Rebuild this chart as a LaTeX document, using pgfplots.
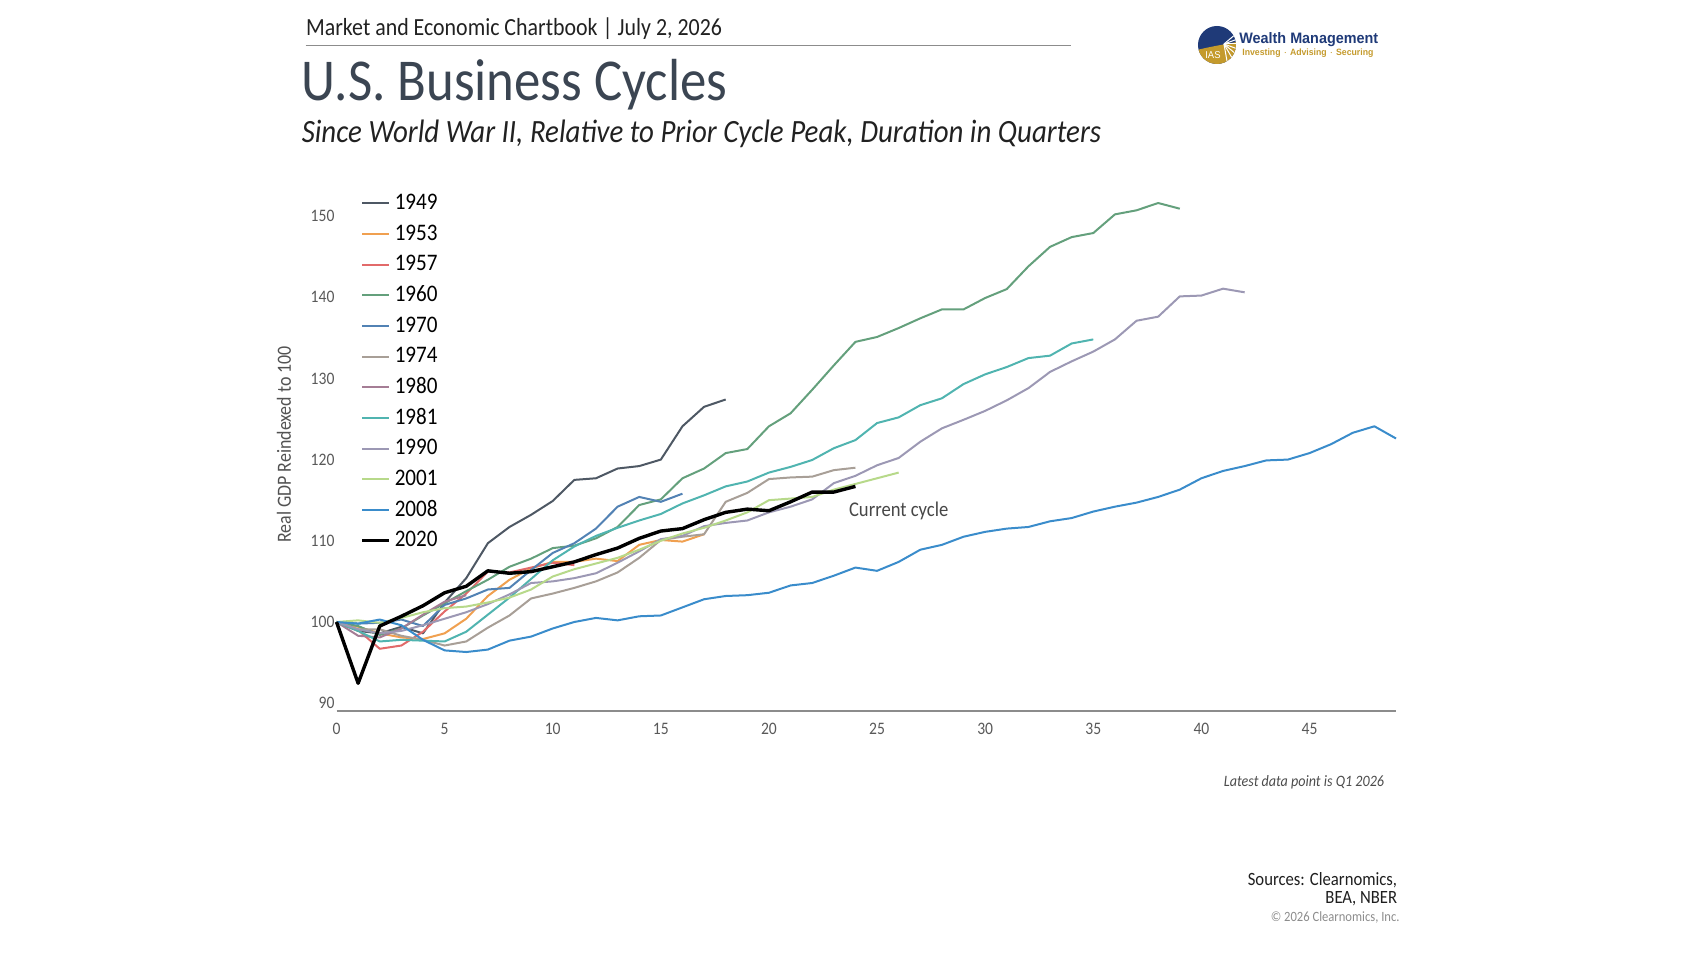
\documentclass[border=0pt]{standalone}
\usepackage{pgfplots}
\pgfplotsset{compat=1.18}
\usepackage{pgfplotstable}
\usepackage{fontspec}
\setmainfont{Carlito}[FakeStretch=0.89]
\newfontfamily\logofont{Liberation Sans}[FakeStretch=0.95]

\definecolor{c1949}{HTML}{4E5864}
\definecolor{c1953}{HTML}{F0A050}
\definecolor{c1957}{HTML}{E26A6A}
\definecolor{c1960}{HTML}{64A07C}
\definecolor{c1970}{HTML}{5282B4}
\definecolor{c1974}{HTML}{A89F97}
\definecolor{c1980}{HTML}{A57D95}
\definecolor{c1981}{HTML}{50B4B0}
\definecolor{c1990}{HTML}{9C98B4}
\definecolor{c2001}{HTML}{B7D98A}
\definecolor{c2008}{HTML}{3A8CCB}
\definecolor{c2020}{HTML}{000000}
\definecolor{titlecol}{HTML}{3B4552}
\definecolor{logoblue}{HTML}{1F3A78}
\definecolor{logogold}{HTML}{C49A2C}

\pgfplotstableread[row sep=\\]{q v\\0 100\\1 98.9\\2 98.6\\3 99.4\\4 98.6\\5 102.4\\6 105.4\\7 109.7\\8 111.7\\9 113.2\\10 114.9\\11 117.5\\12 117.7\\13 118.9\\14 119.2\\15 120.0\\16 124.1\\17 126.5\\18 127.4\\}\tA
\pgfplotstableread[row sep=\\]{q v\\0 100\\1 99.4\\2 98.6\\3 98.1\\4 97.9\\5 98.6\\6 100.4\\7 103.2\\8 105.2\\9 106.6\\10 107.4\\11 107.4\\12 107.8\\13 107.5\\14 109.5\\15 110.1\\16 109.9\\17 110.8\\}\tB
\pgfplotstableread[row sep=\\]{q v\\0 100\\1 99.0\\2 96.7\\3 97.1\\4 98.8\\5 101.3\\6 103.5\\7 106.2\\8 106.1\\9 106.7\\10 107.3\\11 107.0\\}\tC
\pgfplotstableread[row sep=\\]{q v\\0 100\\1 99.5\\2 98.4\\3 99.2\\4 100.8\\5 102.3\\6 103.8\\7 105.2\\8 106.8\\9 107.8\\10 109.1\\11 109.4\\12 110.3\\13 111.7\\14 114.4\\15 115.1\\16 117.7\\17 118.9\\18 120.8\\19 121.3\\20 124.1\\21 125.7\\22 128.6\\23 131.6\\24 134.5\\25 135.1\\26 136.2\\27 137.4\\28 138.5\\29 138.5\\30 139.9\\31 141.0\\32 143.8\\33 146.2\\34 147.4\\35 147.9\\36 150.2\\37 150.7\\38 151.6\\39 150.9\\}\tD
\pgfplotstableread[row sep=\\]{q v\\0 100\\1 99.8\\2 99.9\\3 100.3\\4 99.5\\5 102.1\\6 102.9\\7 104.0\\8 104.2\\9 106.4\\10 108.5\\11 109.7\\12 111.5\\13 114.2\\14 115.4\\15 114.8\\16 115.8\\}\tE
\pgfplotstableread[row sep=\\]{q v\\0 100\\1 99.1\\2 99.1\\3 98.3\\4 97.8\\5 97.1\\6 97.6\\7 99.3\\8 100.8\\9 102.9\\10 103.5\\11 104.2\\12 105.0\\13 106.1\\14 107.9\\15 110.1\\16 110.5\\17 110.8\\18 114.8\\19 115.9\\20 117.6\\21 117.8\\22 117.9\\23 118.7\\24 119.0\\}\tF
\pgfplotstableread[row sep=\\]{q v\\0 100\\1 98.3\\2 98.1\\3 99.2\\4 100.9\\5 102.5\\6 103.3\\}\tG
\pgfplotstableread[row sep=\\]{q v\\0 100\\1 98.9\\2 97.6\\3 97.8\\4 97.7\\5 97.6\\6 98.8\\7 100.9\\8 103.0\\9 105.3\\10 107.6\\11 109.3\\12 110.6\\13 111.6\\14 112.5\\15 113.3\\16 114.6\\17 115.6\\18 116.7\\19 117.3\\20 118.4\\21 119.1\\22 119.95\\23 121.4\\24 122.4\\25 124.5\\26 125.2\\27 126.7\\28 127.55\\29 129.3\\30 130.5\\31 131.4\\32 132.5\\33 132.8\\34 134.3\\35 134.8\\}\tH
\pgfplotstableread[row sep=\\]{q v\\0 100\\1 99.1\\2 98.6\\3 98.9\\4 99.6\\5 100.4\\6 101.2\\7 102.2\\8 103.4\\9 104.8\\10 105.0\\11 105.4\\12 106.0\\13 107.3\\14 108.7\\15 110.2\\16 110.6\\17 111.8\\18 112.2\\19 112.5\\20 113.5\\21 114.2\\22 115.1\\23 117.1\\24 118.0\\25 119.3\\26 120.2\\27 122.2\\28 123.85\\29 124.9\\30 126.0\\31 127.3\\32 128.8\\33 130.8\\34 132.1\\35 133.3\\36 134.8\\37 137.1\\38 137.6\\39 140.1\\40 140.2\\41 141.05\\42 140.6\\}\tI
\pgfplotstableread[row sep=\\]{q v\\0 100\\1 100.2\\2 99.9\\3 100.5\\4 101.2\\5 101.7\\6 101.9\\7 102.4\\8 103.0\\9 104.0\\10 105.6\\11 106.5\\12 107.2\\13 107.9\\14 108.9\\15 110.0\\16 110.9\\17 111.6\\18 112.5\\19 113.5\\20 115.0\\21 115.2\\22 115.4\\23 116.3\\24 117.0\\25 117.7\\26 118.4\\}\tJ
\pgfplotstableread[row sep=\\]{q v\\0 100\\1 99.8\\2 100.3\\3 99.6\\4 97.8\\5 96.5\\6 96.3\\7 96.6\\8 97.7\\9 98.2\\10 99.2\\11 100.0\\12 100.5\\13 100.2\\14 100.7\\15 100.8\\16 101.8\\17 102.8\\18 103.2\\19 103.3\\20 103.6\\21 104.5\\22 104.8\\23 105.7\\24 106.7\\25 106.3\\26 107.4\\27 108.9\\28 109.5\\29 110.5\\30 111.1\\31 111.5\\32 111.7\\33 112.4\\34 112.8\\35 113.6\\36 114.2\\37 114.7\\38 115.4\\39 116.3\\40 117.7\\41 118.6\\42 119.2\\43 119.9\\44 120.0\\45 120.8\\46 121.9\\47 123.3\\48 124.1\\49 122.6\\}\tK
\pgfplotstableread[row sep=\\]{q v\\0 100\\1 92.45\\2 99.5\\3 100.7\\4 102.0\\5 103.6\\6 104.4\\7 106.3\\8 106.0\\9 106.2\\10 106.8\\11 107.4\\12 108.3\\13 109.1\\14 110.3\\15 111.2\\16 111.5\\17 112.6\\18 113.5\\19 113.9\\20 113.7\\21 114.8\\22 116.0\\23 116.0\\24 116.7\\}\tL

\begin{document}
\begin{tikzpicture}
\path[use as bounding box] (0,0) rectangle (850bp,478.5bp);
\begin{axis}[
  at={(168.25bp,122.85bp)}, anchor=south west,
  scale only axis, width=529.75bp, height=267.95bp,
  xmin=0, xmax=49, ymin=89, ymax=155,
  xtick={0,5,...,45}, ytick={90,100,...,150},
  axis lines*=left, axis line style={-},
  y axis line style={draw=none},
  x axis line style={draw=black!45, line width=0.9bp},
  major tick length=0pt,
  tick label style={font=\fontsize{8.8}{10}\selectfont, text=black!65},
  /pgf/number format/assume math mode=true,
  xticklabel style={yshift=-2.5bp},
  yticklabel style={xshift=2.5bp},
  clip=false,
  every axis plot/.append style={line width=1bp, line join=round},
  legend cell align=left,
  legend style={draw=none, fill=none, at={(axis description cs:0.0225,0.9766)}, anchor=north west,
    inner sep=0pt, outer sep=0pt, row sep=0pt,
    font=\fontsize{11.9}{12}\selectfont,
    nodes={inner xsep=2.2bp, inner ysep=0pt, minimum height=15.33bp}},
  legend image code/.code={\draw[#1] (0bp,0bp) -- (13.3bp,0bp);},
]
\addplot[c1949] table[x=q,y=v] {\tA}; \addlegendentry{1949}
\addplot[c1953] table[x=q,y=v] {\tB}; \addlegendentry{1953}
\addplot[c1957] table[x=q,y=v] {\tC}; \addlegendentry{1957}
\addplot[c1960] table[x=q,y=v] {\tD}; \addlegendentry{1960}
\addplot[c1970] table[x=q,y=v] {\tE}; \addlegendentry{1970}
\addplot[c1974] table[x=q,y=v] {\tF}; \addlegendentry{1974}
\addplot[c1980] table[x=q,y=v] {\tG}; \addlegendentry{1980}
\addplot[c1981] table[x=q,y=v] {\tH}; \addlegendentry{1981}
\addplot[c1990] table[x=q,y=v] {\tI}; \addlegendentry{1990}
\addplot[c2001] table[x=q,y=v] {\tJ}; \addlegendentry{2001}
\addplot[c2008] table[x=q,y=v] {\tK}; \addlegendentry{2008}
\addplot[c2020, line width=1.7bp] table[x=q,y=v] {\tL}; \addlegendentry{2020}
\node[font=\fontsize{10.5}{11}\selectfont, text=black!72] at (axis cs:26,113.7) {Current cycle};
\end{axis}

\begin{scope}[x=0.5bp,y=-0.5bp,shift={(0bp,478.5bp)}]
\node[anchor=west, inner sep=0pt, font=\fontsize{12.35}{13}\selectfont, text=black!87] at (305.7,28.2) {Market and Economic Chartbook | July 2, 2026};
\draw[black!45, line width=0.6bp] (305.7,45.5) -- (1071.2,45.5);
\node[anchor=west, inner sep=0pt, font=\fontsize{29.8}{32}\selectfont, text=titlecol] at (301.4,84.6) {U.S. Business Cycles};
\node[anchor=west, inner sep=0pt, font=\fontsize{16.3}{18}\selectfont\itshape, text=black!87] at (301.4,133.4) {Since World War II, Relative to Prior Cycle Peak, Duration in Quarters};
\node[rotate=90, inner sep=0pt, font=\fontsize{10.1}{11}\selectfont, text=black!68] at (284,444.5) {Real GDP Reindexed to 100};
\node[anchor=east, inner sep=0pt, font=\fontsize{7.95}{8}\selectfont\itshape, text=black!70] at (1384.5,782.7) {Latest data point is Q1 2026};
\node[anchor=east, inner sep=0pt, font=\fontsize{9.4}{10}\selectfont, text=black!88] at (1397.6,880.4) {Sources: Clearnomics,};
\node[anchor=east, inner sep=0pt, font=\fontsize{9.4}{10}\selectfont, text=black!88] at (1397.6,898.3) {BEA, NBER};
\node[anchor=east, inner sep=0pt, font=\fontsize{7.1}{8}\selectfont, text=black!45] at (1400,917.3) {\textcopyright{} 2026 Clearnomics, Inc.};
% logo
\fill[logoblue] (1217,45) circle[radius=9.5bp];
\begin{scope}
\clip (1217,45) circle[radius=9.5bp];
\fill[logogold] (1190,52) .. controls (1210,46) and (1230,44) .. (1245,40) -- (1245,70) -- (1190,70) -- cycle;
\foreach \a in {100,120,...,220} {\draw[white, line width=0.5bp] (1224,44) -- ++(\a:-12bp);}
\end{scope}
\node[font=\logofont\fontsize{5}{5}\selectfont, text=white, inner sep=0pt] at (1213,55) {IAS};
\node[anchor=west, inner sep=0pt, font=\logofont\bfseries\fontsize{7.6}{8}\selectfont, text=logoblue] at (1239,40) {Wealth Management};
\node[anchor=west, inner sep=0pt, font=\logofont\bfseries\fontsize{4.6}{5}\selectfont, text=logogold] at (1242,53.5) {Investing $\cdot$ Advising $\cdot$ Securing};
\end{scope}
\end{tikzpicture}
\end{document}
